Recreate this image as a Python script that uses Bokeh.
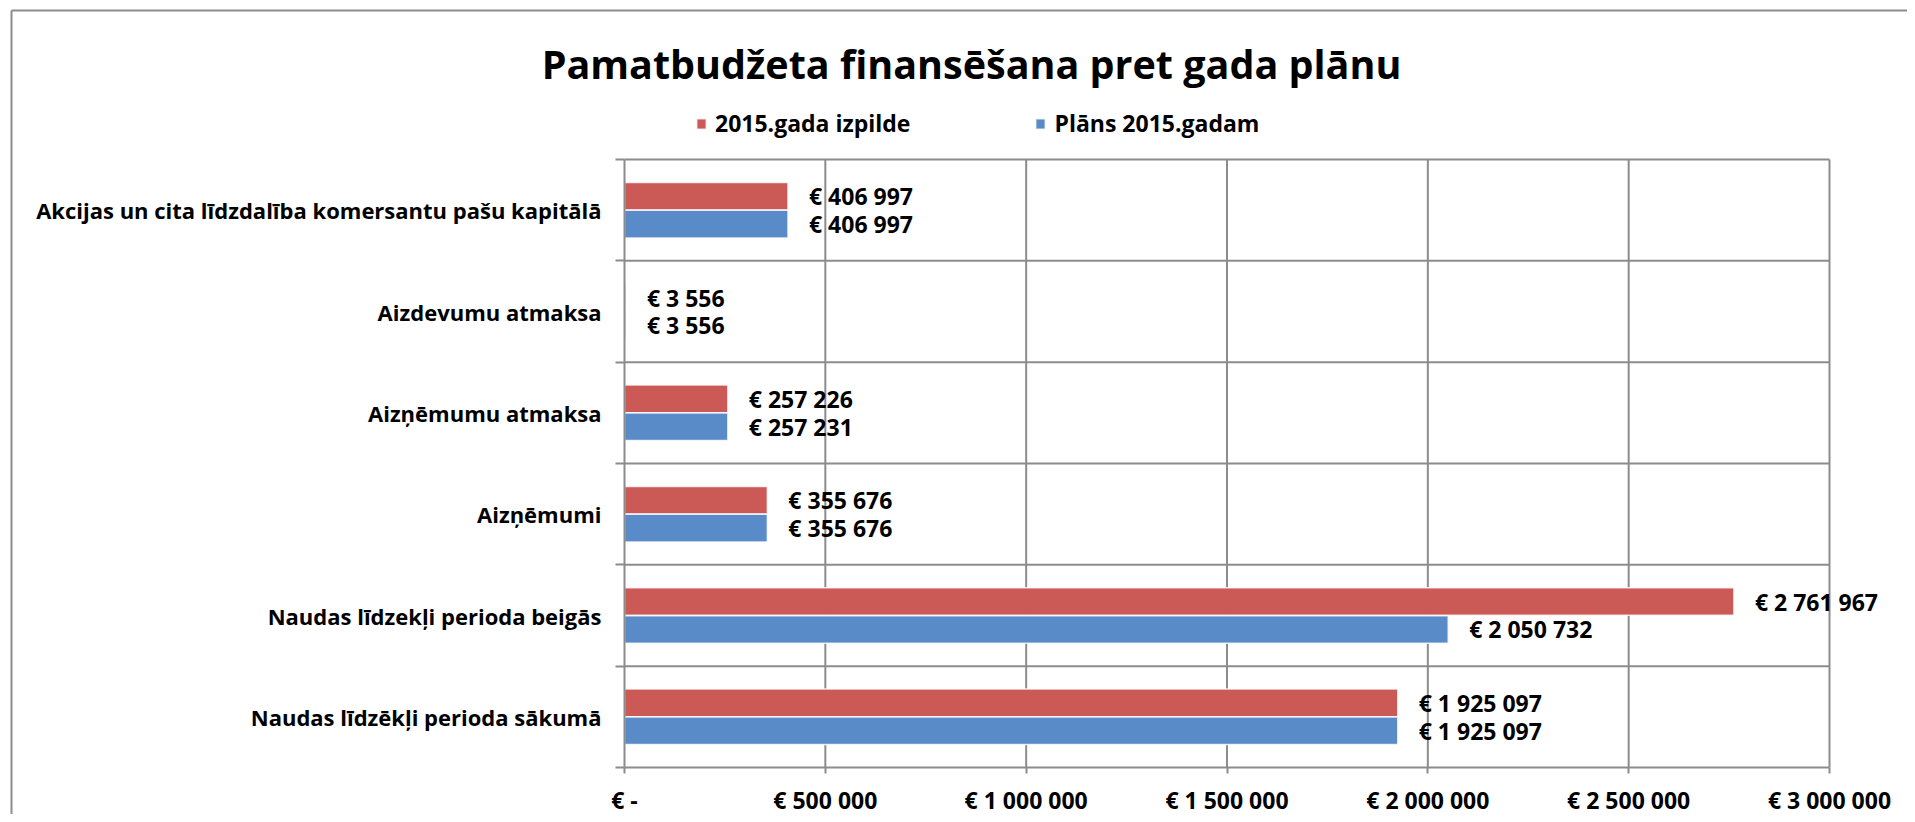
from bokeh.plotting import figure
from bokeh.models import (Range1d, FixedTicker, ColumnDataSource, LabelSet, Label,
                          Legend, LegendItem)
from bokeh.core.properties import value
from bokeh.embed import file_html
from bokeh.resources import INLINE

# ---- data (bottom to top) ----
categories = [
    "Naudas līdzēkļi perioda sākumā",
    "Naudas līdzekļi perioda beigās",
    "Aizņēmumi",
    "Aizņēmumu atmaksa",
    "Aizdevumu atmaksa",
    "Akcijas un cita līdzdalība komersantu pašu kapitālā",
]
izpilde_2015 = [1925097, 2761967, 355676, 257226, 3556, 406997]
plans_2015 = [1925097, 2050732, 355676, 257231, 3556, 406997]
series_names = ["2015.gada izpilde", "Plāns 2015.gadam"]
x_ticks = [0, 500000, 1000000, 1500000, 2000000, 2500000, 3000000]
x_tick_labels = ["€ -", "€ 500 000", "€ 1 000 000", "€ 1 500 000",
                 "€ 2 000 000", "€ 2 500 000", "€ 3 000 000"]
title_text = "Pamatbudžeta finansēšana pret gada plānu"

RED = "#CB5A56"
BLUE = "#588BC8"
GRID = "#8c8c8c"
FONT = "Open Sans"

def eur(v):
    return "€ " + f"{v:,}".replace(",", " ")

n = len(categories)
x_max = x_ticks[-1]
centers = [i + 0.5 for i in range(n)]
bounds_y = list(range(n + 1))
off = 0.138
bh = 0.272

# ---- layout (page pixels) ----
PAGE_X0, PAGE_Y0 = 2, 2          # canvas origin on the page (measured)
W, H = 1907, 814
PLOT_L, PLOT_R, PLOT_T, PLOT_B = 626, 1831, 161, 769   # plot area
BORDER_X, BORDER_Y = 13, 12      # outer chart border
xs = x_max / (PLOT_R - PLOT_L)   # data units per pixel
ys = n / (PLOT_B - PLOT_T)
x_start = (PAGE_X0 - PLOT_L) * xs
x_end = (PAGE_X0 + W - PLOT_L) * xs
y_start = -(PAGE_Y0 + H - PLOT_B) * ys
y_end = (PLOT_B - PAGE_Y0) * ys

p = figure(width=W, height=H, output_backend="svg", toolbar_location=None,
           x_range=Range1d(x_start, x_end), y_range=Range1d(y_start, y_end),
           min_border=0)
p.background_fill_color = "white"
p.border_fill_color = "white"
p.outline_line_color = None
p.xgrid.grid_line_color = None
p.ygrid.grid_line_color = None

# outer chart border (left and top edges)
bx = (BORDER_X - PLOT_L) * xs
by = (PLOT_B - BORDER_Y) * ys
p.segment(x0=[bx, bx], y0=[y_start, by], x1=[bx, x_end], y1=[by, by],
          line_color=GRID, line_width=2)

# grid lines limited to the plot area
p.segment(x0=x_ticks[1:], x1=x_ticks[1:], y0=0, y1=n, line_color=GRID, line_width=2)
p.segment(x0=0, x1=x_max, y0=bounds_y[1:], y1=bounds_y[1:], line_color=GRID, line_width=2)

red_src = ColumnDataSource(dict(y=[c + off for c in centers], v=izpilde_2015,
                                t=[eur(v) for v in izpilde_2015]))
blue_src = ColumnDataSource(dict(y=[c - off for c in centers], v=plans_2015,
                                 t=[eur(v) for v in plans_2015]))

r_red = p.hbar(y="y", right="v", left=0, height=bh, source=red_src,
               fill_color=RED, line_color="white", line_width=1.5, line_alpha=0.8)
r_blue = p.hbar(y="y", right="v", left=0, height=bh, source=blue_src,
                fill_color=BLUE, line_color="white", line_width=1.5, line_alpha=0.8)

for src in (red_src, blue_src):
    p.add_layout(LabelSet(x="v", y="y", text="t", source=src, x_offset=21,
                          text_baseline="middle", text_align="left",
                          text_font=value(FONT), text_font_style="bold",
                          text_font_size="23px", text_color="black"))

# x axis
xa = p.xaxis[0]
xa.fixed_location = 0
xa.ticker = FixedTicker(ticks=x_ticks)
xa.bounds = (0, x_max)
xa.major_label_overrides = {t: l for t, l in zip(x_ticks, x_tick_labels)}
xa.axis_line_color = GRID
xa.axis_line_width = 2
xa.major_tick_line_color = GRID
xa.major_tick_line_width = 2
xa.major_tick_out = 6
xa.major_tick_in = 0
xa.minor_tick_line_color = None
xa.major_label_text_font = FONT
xa.major_label_text_font_style = "bold"
xa.major_label_text_font_size = "23px"
xa.major_label_text_color = "black"
xa.major_label_standoff = 10

# y axis: labels at centers, ticks at boundaries (minor)
ya = p.yaxis[0]
ya.fixed_location = 0
ya.ticker = FixedTicker(ticks=centers, minor_ticks=bounds_y)
ya.bounds = (0, n)
ya.major_label_overrides = {c: cat for c, cat in zip(centers, categories)}
ya.axis_line_color = GRID
ya.axis_line_width = 2
ya.major_tick_line_color = None
ya.major_tick_out = 0
ya.major_tick_in = 0
ya.minor_tick_line_color = GRID
ya.minor_tick_line_width = 2
ya.minor_tick_out = 9
ya.minor_tick_in = 0
ya.major_label_text_font = FONT
ya.major_label_text_font_style = "bold"
ya.major_label_text_font_size = "22px"
ya.major_label_text_color = "black"
ya.major_label_standoff = 14

# title (screen units relative to the frame's bottom-left)
p.add_layout(Label(x=973 - PAGE_X0, y=PAGE_Y0 + H - 65, x_units="screen", y_units="screen",
                   text=title_text, text_align="center", text_baseline="middle",
                   text_font=FONT, text_font_style="bold", text_font_size="39.5px",
                   text_color="black"))

# legend
legend = Legend(items=[LegendItem(label=series_names[0], renderers=[r_red]),
                       LegendItem(label=series_names[1], renderers=[r_blue])],
                orientation="horizontal",
                location=(697 - PAGE_X0, PAGE_Y0 + H - 125 - 16),
                glyph_width=12, glyph_height=13, label_standoff=8, spacing=124,
                padding=0, margin=0, border_line_color=None, background_fill_alpha=0,
                label_text_font=FONT, label_text_font_style="bold",
                label_text_font_size="23px", label_text_color="black")
p.add_layout(legend, "center")

open("out.html", "w").write(file_html(p, INLINE))
